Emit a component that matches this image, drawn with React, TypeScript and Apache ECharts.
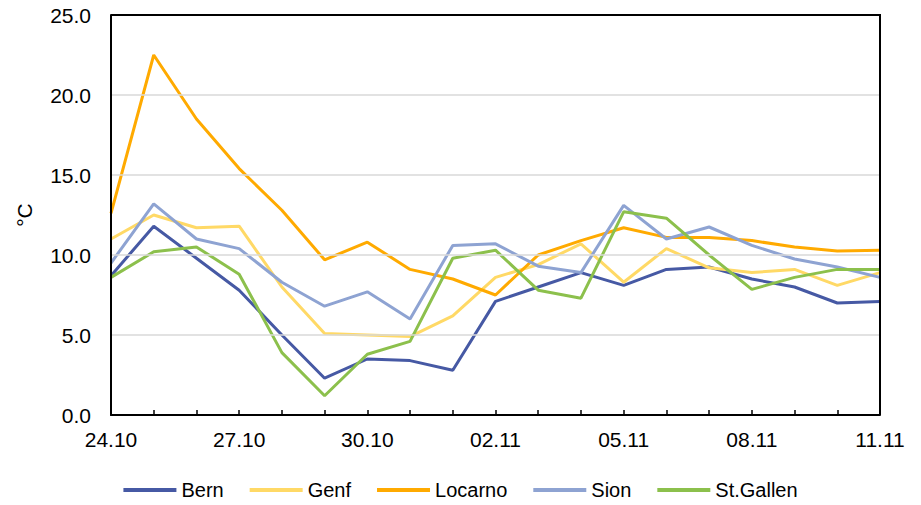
import React, { useEffect, useRef } from "react";
import * as echarts from "echarts";

const categories = [
  "24.10", "25.10", "26.10", "27.10", "28.10", "29.10", "30.10", "31.10",
  "01.11", "02.11", "03.11", "04.11", "05.11", "06.11", "07.11", "08.11",
  "09.11", "10.11", "11.11",
];

const bern = [8.7, 11.8, 9.8, 7.8, 5.0, 2.3, 3.5, 3.4, 2.8, 7.1, 8.0, 8.9, 8.1, 9.1, 9.25, 8.5, 8.0, 7.0, 7.1];
const genf = [11.0, 12.5, 11.7, 11.8, 8.0, 5.1, 5.0, 4.9, 6.2, 8.6, 9.4, 10.7, 8.3, 10.4, 9.2, 8.9, 9.1, 8.1, 8.9];
const locarno = [12.6, 22.5, 18.5, 15.4, 12.8, 9.7, 10.8, 9.1, 8.5, 7.5, 10.0, 10.9, 11.7, 11.1, 11.1, 10.9, 10.5, 10.25, 10.3];
const sion = [9.5, 13.2, 11.0, 10.4, 8.3, 6.8, 7.7, 6.0, 10.6, 10.7, 9.3, 8.9, 13.1, 11.0, 11.75, 10.6, 9.75, 9.25, 8.6];
const stgallen = [8.6, 10.2, 10.5, 8.8, 3.9, 1.2, 3.8, 4.6, 9.8, 10.3, 7.8, 7.3, 12.7, 12.3, 10.0, 7.85, 8.6, 9.1, 9.1];

const yTicks = { min: 0, max: 25, interval: 5 };

const seriesDefs = [
  { name: "Bern", data: bern, color: "#4659A4" },
  { name: "Genf", data: genf, color: "#FFD966" },
  { name: "Locarno", data: locarno, color: "#FFAA00" },
  { name: "Sion", data: sion, color: "#8EA3D2" },
  { name: "St.Gallen", data: stgallen, color: "#8CC04C" },
];

const FONT = "'Liberation Sans', Arial, sans-serif";
const GRID = { left: 111, right: 41, top: 15, bottom: 90 };

export default function App() {
  const ref = useRef<HTMLDivElement>(null);

  useEffect(() => {
    if (!ref.current) return;
    const chart = echarts.init(ref.current, undefined, { renderer: "svg" });
    const W = 921;
    const H = 505;
    chart.setOption({
      animation: false,
      backgroundColor: "#ffffff",
      textStyle: { fontFamily: FONT },
      grid: GRID,
      graphic: [
        {
          type: "polyline",
          z: 100,
          silent: true,
          shape: {
            points: [
              [GRID.left, GRID.top],
              [W - GRID.right, GRID.top],
              [W - GRID.right, H - GRID.bottom],
            ],
          },
          style: { stroke: "#000", lineWidth: 2, fill: "none" },
        },
      ],
      legend: {
        bottom: 0,
        left: "center",
        itemWidth: 53,
        itemHeight: 4,
        itemGap: 26,
        icon: "rect",
        textStyle: { fontSize: 20, color: "#000", fontFamily: FONT },
        data: seriesDefs.map((s) => s.name),
      },
      xAxis: {
        type: "category",
        data: categories,
        boundaryGap: false,
        axisLine: { onZero: false, lineStyle: { color: "#000", width: 2 } },
        axisTick: { inside: true, length: 5, lineStyle: { color: "#000", width: 1.5 }, interval: 0 },
        axisLabel: { interval: 2, fontSize: 21, color: "#000", margin: 14, fontFamily: FONT },
        splitLine: { show: false },
        z: 20,
      },
      yAxis: {
        type: "value",
        min: yTicks.min,
        max: yTicks.max,
        interval: yTicks.interval,
        name: "°C",
        nameLocation: "middle",
        nameRotate: 90,
        nameGap: 76,
        nameTextStyle: { fontSize: 21, color: "#000", fontFamily: FONT },
        axisLine: { show: true, onZero: false, lineStyle: { color: "#000", width: 2 } },
        axisTick: { show: false },
        axisLabel: {
          fontSize: 21,
          color: "#000",
          margin: 20,
          fontFamily: FONT,
          formatter: (v: number) => v.toFixed(1),
        },
        splitLine: {
          show: true,
          showMinLine: false,
          showMaxLine: false,
          lineStyle: { color: "#D9D9D9", width: 1.5 },
        },
        z: 5,
      },
      series: seriesDefs.map((s) => ({
        name: s.name,
        type: "line",
        data: s.data,
        symbol: "none",
        showSymbol: false,
        color: s.color,
        lineStyle: { color: s.color, width: 3 },
        itemStyle: { color: s.color },
      })),
    });
    return () => chart.dispose();
  }, []);

  return <div ref={ref} style={{ width: 921, height: 505, margin: -8 }} />;
}
